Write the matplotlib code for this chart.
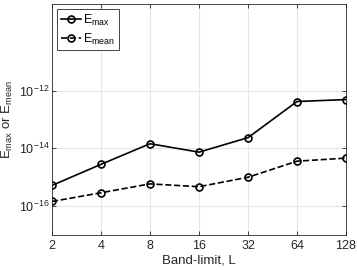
import numpy as np
import matplotlib.pyplot as plt

# band-limits and errors
band_limits = [2, 4, 8, 16, 32, 64, 128]
e_max = [5.2e-16, 2.8e-15, 1.45e-14, 7.4e-15, 2.35e-14, 4.2e-13, 4.9e-13]
e_mean = [1.45e-16, 2.9e-16, 5.9e-16, 4.7e-16, 1.0e-15, 3.6e-15, 4.6e-15]
y_ticks = [1e-16, 1e-14, 1e-12]

plt.rcParams['font.family'] = ['Liberation Sans', 'DejaVu Sans']
plt.rcParams['mathtext.fontset'] = 'custom'
plt.rcParams['mathtext.rm'] = 'Liberation Sans'
plt.rcParams['mathtext.it'] = 'Liberation Sans'

axis_col = '#262626'

fig = plt.figure(figsize=(3.57, 2.70), dpi=100)
ax = fig.add_axes([52 / 357, 1 - 235 / 270, 294 / 357, 231 / 270])

ax.plot(band_limits, e_max, '-o', color='black', lw=1.2, ms=5,
        mfc='none', mew=1.2, label=r'E$_{\mathrm{max}}$')
ax.plot(band_limits, e_mean, '--o', color='black', lw=1.2, ms=5,
        mfc='none', mew=1.2, label=r'E$_{\mathrm{mean}}$')

ax.set_xscale('log', base=2)
ax.set_yscale('log')
ax.set_xlim(2, 128)
ax.set_ylim(1e-17, 1e-9)
ax.set_xticks(band_limits)
ax.set_xticklabels([str(b) for b in band_limits])
ax.set_yticks(y_ticks)
ax.set_yticklabels([r'$10^{-16}$', r'$10^{-14}$', r'$10^{-12}$'])
ax.minorticks_off()

ax.grid(True, color='#e6e6e6', lw=0.8)
ax.set_axisbelow(True)
for s in ax.spines.values():
    s.set_color(axis_col)
    s.set_linewidth(0.6)
ax.tick_params(direction='in', top=True, right=True, length=3,
               colors=axis_col, labelsize=9, labelcolor='#262626', width=0.6)
ax.tick_params(axis='y', pad=2)

ax.set_xlabel('Band-limit, L', fontsize=9.5, color='#262626', labelpad=2)
ax.set_ylabel(r'E$_{\mathrm{max}}$ or E$_{\mathrm{mean}}$', fontsize=9.5,
              color='#262626', labelpad=0)
ax.yaxis.set_label_coords(-0.125, 0.5)

leg = ax.legend(loc='upper left', fontsize=9, handlelength=1.6,
                borderaxespad=0.4, fancybox=False, framealpha=1,
                borderpad=0.3, labelspacing=0.3, handletextpad=0.2)
leg.get_frame().set_edgecolor(axis_col)
leg.get_frame().set_linewidth(0.6)

fig.savefig('out.png', dpi=100)
